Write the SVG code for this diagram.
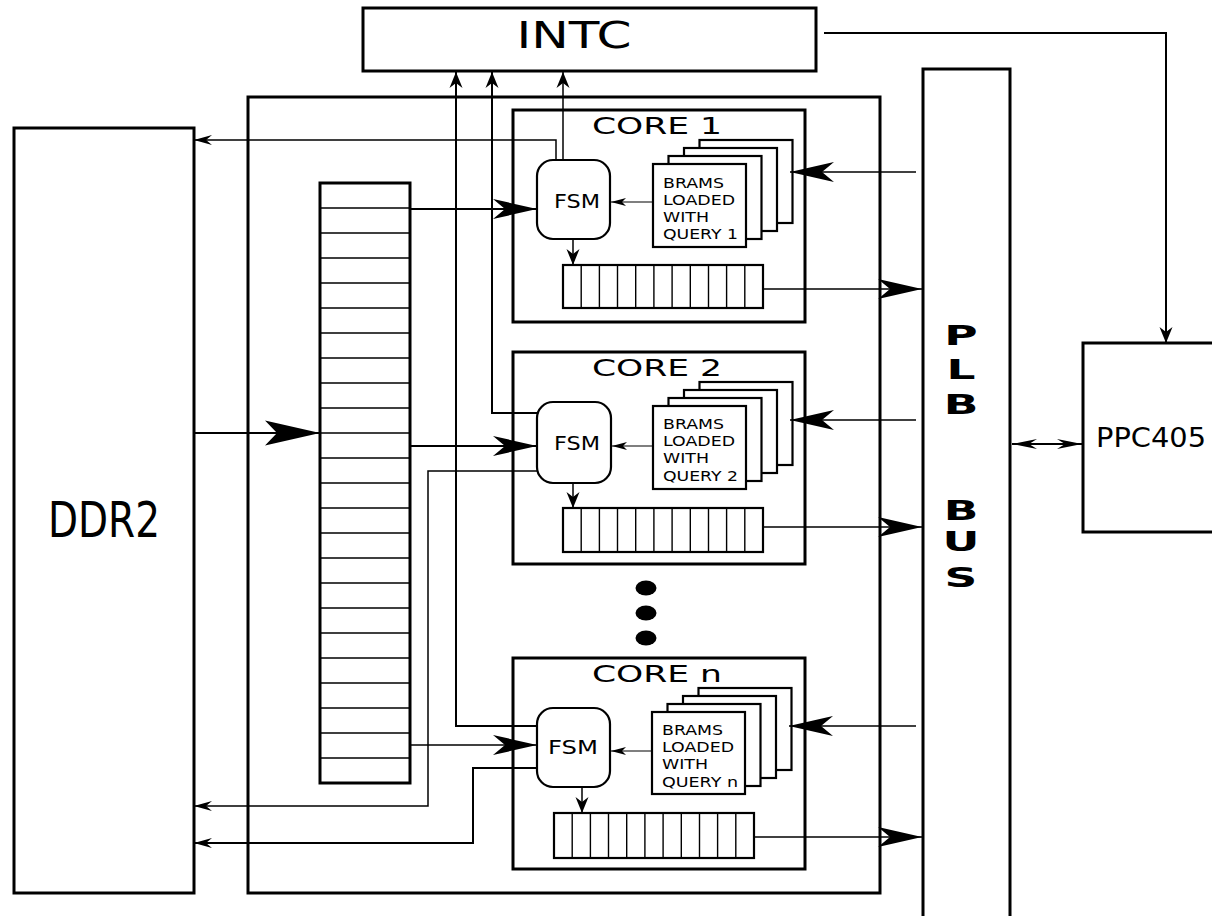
<svg xmlns="http://www.w3.org/2000/svg" width="1212" height="916" viewBox="0 0 1212 916">
<style>
.box{fill:#fff;stroke:#000;stroke-width:3}
.mid{fill:#fff;stroke:#000;stroke-width:2.2}
.cell{fill:none;stroke:#000;stroke-width:1.4}
.ln{fill:none;stroke:#000;stroke-width:2}
.lt{fill:none;stroke:#000;stroke-width:1.5}
.lx{fill:none;stroke:#000;stroke-width:1.1}
text{font-family:"DejaVu Sans","Liberation Sans",sans-serif;fill:#000}
.big{marker-end:url(#mBig)}
.huge{marker-end:url(#mHuge)}
.sm{marker-end:url(#mSmall)}
.up{marker-end:url(#mUp)}
.tiny{marker-end:url(#mTiny)}
</style>
<defs>
<marker id="mBig" markerUnits="userSpaceOnUse" viewBox="-44 -10 44 20" refX="0" refY="0" markerWidth="44" markerHeight="20" orient="auto" overflow="visible"><path d="M0,0 L-44,-10 L-32,0 L-44,10 Z" fill="#000"/></marker>
<marker id="mHuge" markerUnits="userSpaceOnUse" viewBox="-55 -12.5 55 25" refX="0" refY="0" markerWidth="55" markerHeight="25" orient="auto" overflow="visible"><path d="M0,0 L-55,-12.5 L-43,0 L-55,12.5 Z" fill="#000"/></marker>
<marker id="mSmall" markerUnits="userSpaceOnUse" viewBox="-18 -5 18 10" refX="0" refY="0" markerWidth="18" markerHeight="10" orient="auto" overflow="visible"><path d="M0,0 L-18,-5 L-12,0 L-18,5 Z" fill="#000"/></marker>
<marker id="mUp" markerUnits="userSpaceOnUse" viewBox="-16 -6.5 16 13" refX="0" refY="0" markerWidth="16" markerHeight="13" orient="auto" overflow="visible"><path d="M0,0 L-16,-6.5 L-11,0 L-16,6.5 Z" fill="#000"/></marker>
<marker id="mTiny" markerUnits="userSpaceOnUse" viewBox="-15 -4 15 8" refX="0" refY="0" markerWidth="15" markerHeight="8" orient="auto" overflow="visible"><path d="M0,0 L-15,-4 L-11,0 L-15,4 Z" fill="#000"/></marker>
<marker id="mDbl" markerUnits="userSpaceOnUse" viewBox="-25 -5 25 10" refX="0" refY="0" markerWidth="25" markerHeight="10" orient="auto-start-reverse" overflow="visible"><path d="M0,0 L-25,-5 L-17,0 L-25,5 Z" fill="#000"/></marker>
</defs>

<g id="ddr2">
<rect class="box" x="14" y="128" width="180" height="765"/>
<text x="104" y="537" font-size="50" text-anchor="middle" textLength="112" lengthAdjust="spacingAndGlyphs">DDR2</text>
</g>

<g id="intc">
<rect class="box" x="363" y="8" width="453" height="63"/>
<text x="574" y="48" font-size="37" text-anchor="middle" textLength="115" lengthAdjust="spacingAndGlyphs">INTC</text>
</g>

<g id="accelerator">
<rect class="box" x="248" y="97" width="632" height="796"/>
</g>

<g id="plb-bus">
<rect class="box" x="923" y="69" width="87" height="860"/>
<g transform="translate(961 0) scale(1.75 1)" font-size="26" font-weight="bold" text-anchor="middle">
<text x="0" y="345">P</text>
<text x="0" y="379">L</text>
<text x="0" y="414">B</text>
<text x="0" y="520">B</text>
<text x="0" y="551">U</text>
<text x="0" y="587">S</text>
</g>
</g>

<g id="ppc405">
<rect class="box" x="1083" y="343" width="140" height="189"/>
<text x="1096" y="447" font-size="26" textLength="110" lengthAdjust="spacingAndGlyphs">PPC405</text>
</g>

<g id="buffer">
<rect x="320" y="183" width="90" height="600" fill="#fff" stroke="#000" stroke-width="3"/>
<path class="cell" d="M320,208H410M320,233H410M320,258H410M320,283H410M320,308H410M320,333H410M320,358H410M320,383H410M320,408H410M320,433H410M320,458H410M320,483H410M320,508H410M320,533H410M320,558H410M320,583H410M320,608H410M320,633H410M320,658H410M320,683H410M320,708H410M320,733H410M320,758H410"/>
</g>

<g id="core1">
<rect class="box" x="513" y="110" width="292" height="212"/>
<text x="657" y="134" font-size="23" text-anchor="middle" textLength="130" lengthAdjust="spacingAndGlyphs">CORE 1</text>
<rect class="mid" x="537" y="160" width="73" height="79" rx="16" ry="16"/>
<text x="577" y="208" font-size="20" text-anchor="middle" textLength="46" lengthAdjust="spacingAndGlyphs">FSM</text>
<rect class="mid" x="699.5" y="140" width="93" height="83"/>
<rect class="mid" x="684" y="148" width="93" height="83"/>
<rect class="mid" x="668.5" y="156" width="93" height="83"/>
<rect class="mid" x="653" y="164" width="93" height="83"/>
<g font-size="13.5">
<text x="663" y="188" textLength="61" lengthAdjust="spacingAndGlyphs">BRAMS</text>
<text x="663" y="205" textLength="72" lengthAdjust="spacingAndGlyphs">LOADED</text>
<text x="663" y="222" textLength="46" lengthAdjust="spacingAndGlyphs">WITH</text>
<text x="663" y="239" textLength="75" lengthAdjust="spacingAndGlyphs">QUERY 1</text>
</g>
<rect class="mid" x="563" y="265" width="200" height="43"/>
<path class="cell" d="M581.2,265V308M599.4,265V308M617.5,265V308M635.7,265V308M653.9,265V308M672.1,265V308M690.3,265V308M708.5,265V308M726.6,265V308M744.8,265V308"/>
</g>

<g id="core2">
<rect class="box" x="513" y="352" width="292" height="212"/>
<text x="657" y="376" font-size="23" text-anchor="middle" textLength="130" lengthAdjust="spacingAndGlyphs">CORE 2</text>
<rect class="mid" x="537" y="402" width="74" height="81" rx="16" ry="16"/>
<text x="577" y="450" font-size="20" text-anchor="middle" textLength="46" lengthAdjust="spacingAndGlyphs">FSM</text>
<rect class="mid" x="699.5" y="382" width="93" height="83"/>
<rect class="mid" x="684" y="390" width="93" height="83"/>
<rect class="mid" x="668.5" y="398" width="93" height="83"/>
<rect class="mid" x="653" y="406" width="93" height="83"/>
<g font-size="13.5">
<text x="663" y="429" textLength="61" lengthAdjust="spacingAndGlyphs">BRAMS</text>
<text x="663" y="446" textLength="72" lengthAdjust="spacingAndGlyphs">LOADED</text>
<text x="663" y="463" textLength="46" lengthAdjust="spacingAndGlyphs">WITH</text>
<text x="663" y="481" textLength="75" lengthAdjust="spacingAndGlyphs">QUERY 2</text>
</g>
<rect class="mid" x="563" y="508" width="200" height="44"/>
<path class="cell" d="M581.2,508V552M599.4,508V552M617.5,508V552M635.7,508V552M653.9,508V552M672.1,508V552M690.3,508V552M708.5,508V552M726.6,508V552M744.8,508V552"/>
</g>

<g id="dots">
<ellipse cx="646" cy="588" rx="10.5" ry="7.5"/>
<ellipse cx="646" cy="613" rx="10.5" ry="7.5"/>
<ellipse cx="646" cy="638" rx="10.5" ry="7.5"/>
</g>

<g id="coren">
<rect class="box" x="513" y="658" width="292" height="211"/>
<text x="657" y="682" font-size="23" text-anchor="middle" textLength="130" lengthAdjust="spacingAndGlyphs">CORE n</text>
<rect class="mid" x="537" y="708" width="73" height="79" rx="16" ry="16"/>
<text x="573" y="754" font-size="20" text-anchor="middle" textLength="50" lengthAdjust="spacingAndGlyphs">FSM</text>
<rect class="mid" x="698.5" y="688" width="93" height="82"/>
<rect class="mid" x="683" y="696" width="93" height="82"/>
<rect class="mid" x="667.5" y="704" width="93" height="82"/>
<rect class="mid" x="652" y="712" width="93" height="82"/>
<g font-size="13.5">
<text x="662" y="735" textLength="61" lengthAdjust="spacingAndGlyphs">BRAMS</text>
<text x="662" y="752" textLength="72" lengthAdjust="spacingAndGlyphs">LOADED</text>
<text x="662" y="769" textLength="46" lengthAdjust="spacingAndGlyphs">WITH</text>
<text x="662" y="787" textLength="76" lengthAdjust="spacingAndGlyphs">QUERY n</text>
</g>
<rect class="mid" x="554" y="813" width="200" height="45"/>
<path class="cell" d="M572.2,813V858M590.4,813V858M608.5,813V858M626.7,813V858M644.9,813V858M663.1,813V858M681.3,813V858M699.5,813V858M717.6,813V858M735.8,813V858"/>
</g>

<g id="connectors">
<!-- DDR2 to buffer -->
<path class="ln huge" d="M194,433H320"/>
<!-- INTC to PPC405 -->
<path class="ln up" d="M824,33H1166V343"/>
<!-- PLB <-> PPC405 -->
<path class="ln" d="M1012,444H1082" marker-start="url(#mDbl)" marker-end="url(#mDbl)"/>
<!-- core 1 -->
<path class="lt sm" d="M556,160V140H194"/>
<path class="lt up" d="M563,160V72"/>
<path class="ln big" d="M411,209H537"/>
<path class="lx tiny" d="M653,202H611"/>
<path class="lt big" d="M916,172H790"/>
<path class="lt up" d="M573,239V265"/>
<path class="lt big" d="M763,289H922"/>
<!-- core 2 -->
<path class="ln up" d="M537,413H492V72"/>
<path class="ln big" d="M411,446H537"/>
<path class="lt sm" d="M537,471H428V806H194"/>
<path class="lx tiny" d="M653,446H612"/>
<path class="lt big" d="M916,420H790"/>
<path class="lt up" d="M573,483V508"/>
<path class="lt big" d="M763,527H922"/>
<!-- core n -->
<path class="ln up" d="M537,726H456V72"/>
<path class="lt big" d="M411,745H537"/>
<path class="ln sm" d="M537,768H473V843H194"/>
<path class="lx tiny" d="M652,751H611"/>
<path class="lt big" d="M916,726H789"/>
<path class="lt up" d="M582,787V813"/>
<path class="lt big" d="M754,837H922"/>
</g>
</svg>
